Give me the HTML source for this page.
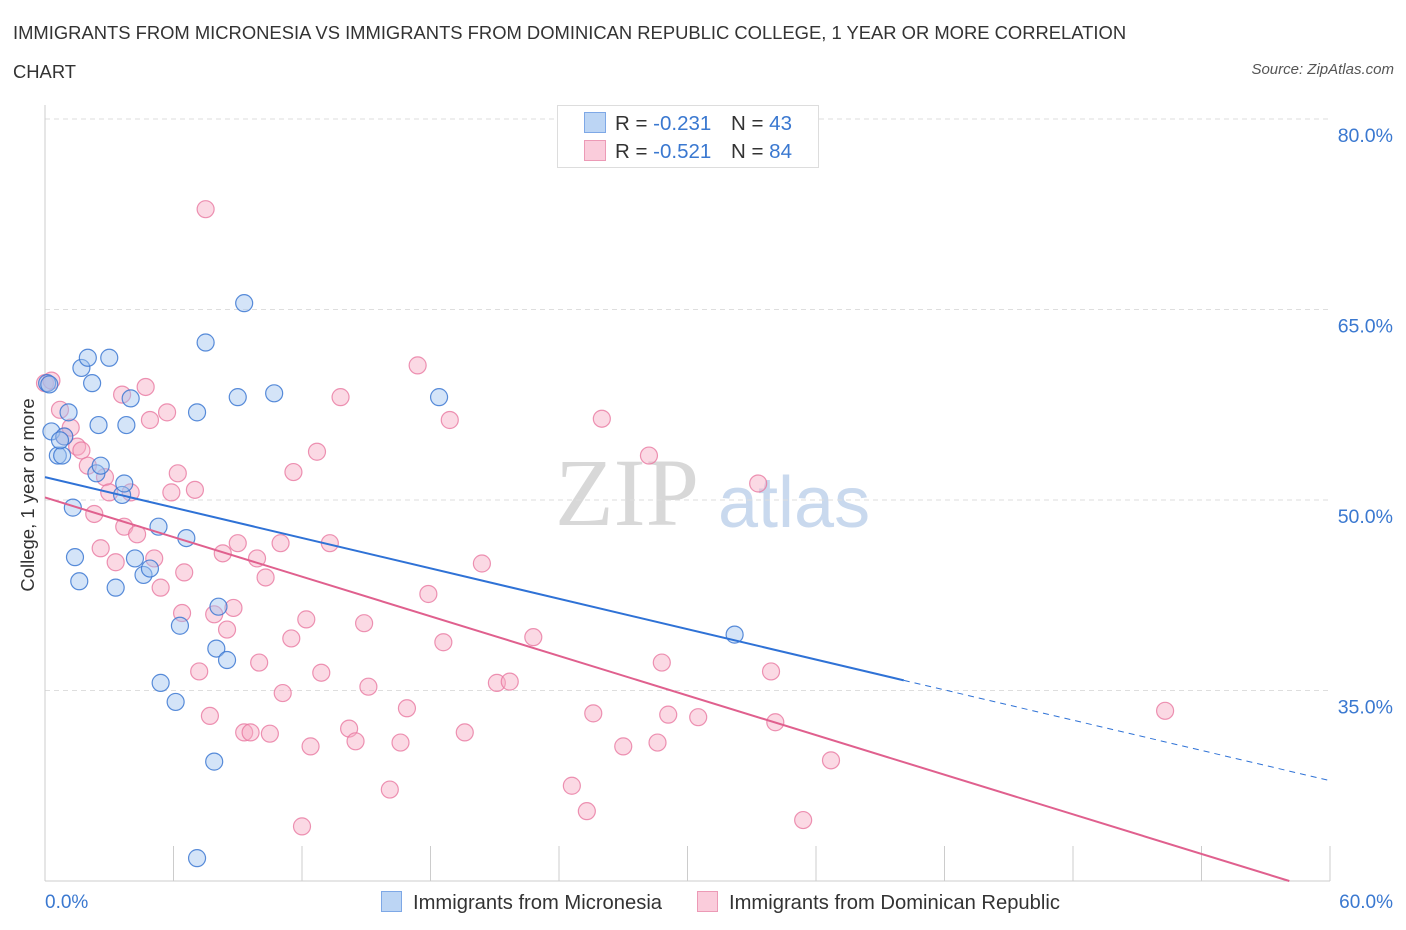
<!DOCTYPE html>
<html><head><meta charset="utf-8"><style>
body{margin:0;background:#fff;font-family:"Liberation Sans",sans-serif;}
#wrap{position:relative;width:1406px;height:930px;overflow:hidden;}
.t{position:absolute;color:#333;}
</style></head><body>
<div id="wrap">
<div class="t" style="left:13px;top:22px;font-size:18.4px;letter-spacing:0px">IMMIGRANTS FROM MICRONESIA VS IMMIGRANTS FROM DOMINICAN REPUBLIC COLLEGE, 1 YEAR OR MORE CORRELATION</div>
<div class="t" style="left:13px;top:61px;font-size:18.4px">CHART</div>
<div class="t" style="right:12px;top:61px;font-size:15px;font-style:italic;color:#555">Source: ZipAtlas.com</div>
<svg id="svg" width="1406" height="930" style="position:absolute;left:0;top:0"></svg>
</div>
<script>
const xTicks=[0,6,12,18,24,30,36,42,48,54,60];
const yTicks=[35,50,65,80];
const blueX=[0.1,0.2,0.3,0.6,0.8,0.9,1.1,1.3,1.4,1.6,1.7,2.0,2.2,2.4,2.6,2.5,3.0,3.3,3.6,3.7,3.8,4.0,4.2,4.6,4.9,5.3,5.4,6.1,6.3,6.6,7.1,7.5,7.9,8.0,8.1,8.5,9.0,9.3,10.7,7.1,18.4,32.2,0.7];
const blueY=[59.2,59.1,55.4,53.5,53.5,55.0,56.9,49.4,45.5,43.6,60.4,61.2,59.2,52.1,52.7,55.9,61.2,43.1,50.4,51.3,55.9,58.0,45.4,44.1,44.6,47.9,35.6,34.1,40.1,47.0,56.9,62.4,29.4,38.3,41.6,37.4,58.1,65.5,58.4,21.8,58.1,39.4,54.7];
const pinkX=[0,0.3,0.7,0.9,1.2,1.5,1.7,2.0,2.3,2.6,2.8,3.0,3.3,3.6,3.7,4.0,4.3,4.7,4.9,5.1,5.4,5.7,5.9,6.2,6.4,6.5,7.0,7.2,7.5,7.7,7.9,8.3,8.5,8.8,9.0,9.3,9.6,9.9,10.0,10.3,10.5,11.0,11.1,11.5,11.6,12.2,12.4,12.7,12.9,13.3,13.8,14.2,14.5,14.9,15.1,16.1,16.6,16.9,17.4,17.9,18.6,18.9,19.6,20.4,21.1,21.7,22.8,24.6,25.3,25.6,26.0,27.0,28.2,28.6,28.8,29.1,30.5,33.3,33.9,34.1,35.4,36.7,52.3,12.0];
const pinkY=[59.2,59.4,57.1,55.0,55.7,54.2,53.9,52.7,48.9,46.2,51.8,50.6,45.1,58.3,47.9,50.6,47.3,58.9,56.3,45.4,43.1,56.9,50.6,52.1,41.1,44.3,50.8,36.5,72.9,33.0,41.0,45.8,39.8,41.5,46.6,31.7,31.7,45.4,37.2,43.9,31.6,46.6,34.8,39.1,52.2,40.6,30.6,53.8,36.4,46.6,58.1,32.0,31.0,40.3,35.3,27.2,30.9,33.6,60.6,42.6,38.8,56.3,31.7,45.0,35.6,35.7,39.2,27.5,25.5,33.2,56.4,30.6,53.5,30.9,37.2,33.1,32.9,51.3,36.5,32.5,24.8,29.5,33.4,24.3];
const blueTrend=[51.8,35.8,27.9];
const blueTrendX=[0,40.1,60];
const pinkTrend=[50.2,20.0];
const pinkTrendX=[0,58.1];

const NS="http://www.w3.org/2000/svg";
const svg=document.getElementById('svg');
const X=v=>45+v*(1285/60);
const Y=v=>500-(v-50)*12.7;
function mk(tag,attrs,parent){const e=document.createElementNS(NS,tag);for(const k in attrs)e.setAttribute(k,attrs[k]);(parent||svg).appendChild(e);return e;}

let wm=mk('text',{x:555,y:525,'font-size':96,'font-family':'Liberation Serif, serif',fill:'#d8d8d8'});wm.textContent='ZIP';


let wm2=mk('text',{x:718,y:527,'font-size':72,'font-family':'Liberation Sans, sans-serif',fill:'#c9d9ee'});wm2.textContent='atlas';



yTicks.forEach(v=>{
 let g=mk('line',{x1:45,x2:1330,y1:Y(v),y2:Y(v),stroke:'#dedede','stroke-dasharray':'5,4'});
 
 
 let t=mk('text',{x:1393,y:Y(v)+23,'text-anchor':'end','font-size':19.5,fill:'#3a78d0'});t.textContent=v.toFixed(1)+'%';
 
 
});
let ax=mk('line',{x1:45,x2:1330,y1:881,y2:881,stroke:'#ccc'});


let ay=mk('line',{x1:45,x2:45,y1:105,y2:881,stroke:'#ccc'});


xTicks.forEach(v=>{
 let l=mk('line',{x1:X(v),x2:X(v),y1:846,y2:881,stroke:'#ccc'});
 
 
});
let xl0=mk('text',{x:45,y:908,'font-size':19,fill:'#3a78d0'});xl0.textContent=xTicks[0].toFixed(1)+'%';


let xl1=mk('text',{x:1393,y:908,'text-anchor':'end','font-size':19,fill:'#3a78d0'});xl1.textContent=xTicks[xTicks.length-1].toFixed(1)+'%';


let yt=mk('text',{x:0,y:0,'font-size':18.5,fill:'#333',transform:'translate(34,495) rotate(-90)','text-anchor':'middle'});yt.textContent='College, 1 year or more';



function pts(xs,ys,fill,stroke,name){xs.forEach((x,i)=>{
 let c=mk('circle',{cx:X(x),cy:Y(ys[i]),r:8.5,fill:fill,stroke:stroke,'stroke-width':1.2});
 
 
});}
pts(pinkX,pinkY,'rgba(246,170,195,0.45)','rgba(232,120,160,0.8)','pink-point');
pts(blueX,blueY,'rgba(160,195,240,0.45)','rgba(60,120,210,0.85)','blue-point');

let bt=mk('line',{x1:X(blueTrendX[0]),y1:Y(blueTrend[0]),x2:X(blueTrendX[1]),y2:Y(blueTrend[1]),stroke:'#2f72d6','stroke-width':2});


let bd=mk('line',{x1:X(blueTrendX[1]),y1:Y(blueTrend[1]),x2:X(blueTrendX[2]),y2:Y(blueTrend[2]),stroke:'#2f72d6','stroke-width':1,'stroke-dasharray':'6,5'});


let pt=mk('line',{x1:X(pinkTrendX[0]),y1:Y(pinkTrend[0]),x2:X(pinkTrendX[1]),y2:Y(pinkTrend[1]),stroke:'#e0608e','stroke-width':2});



let lb=mk('rect',{x:557.5,y:105.5,width:261,height:62,fill:'#fff',stroke:'#ddd'});


[['rgba(160,195,240,0.7)','#7ea8e6','-0.231','43',123],['rgba(246,170,195,0.6)','#ec9ab6','-0.521','84',151]].forEach(r=>{
 let s=mk('rect',{x:584.5,y:r[4]-10.5,width:21,height:20,fill:r[0],stroke:r[1]});
 
 
 let t=mk('text',{x:615,y:r[4]+7,'font-size':20.5,fill:'#333'});
 t.innerHTML='R = <tspan fill="#3a78d0">'+r[2]+'</tspan><tspan x="731">N = </tspan><tspan fill="#3a78d0">'+r[3]+'</tspan>';
 
 
});
[[381,'rgba(160,195,240,0.7)','#7ea8e6','Immigrants from Micronesia','legend-micronesia'],[697,'rgba(246,170,195,0.6)','#ec9ab6','Immigrants from Dominican Republic','legend-dominican-republic']].forEach(l=>{
 let s=mk('rect',{x:l[0]+0.5,y:891.5,width:20,height:20,fill:l[1],stroke:l[2]});
 
 
 let t=mk('text',{x:l[0]+32,y:909,'font-size':20.2,fill:'#333'});t.textContent=l[3];
 
 
});
</script>
</body></html>
